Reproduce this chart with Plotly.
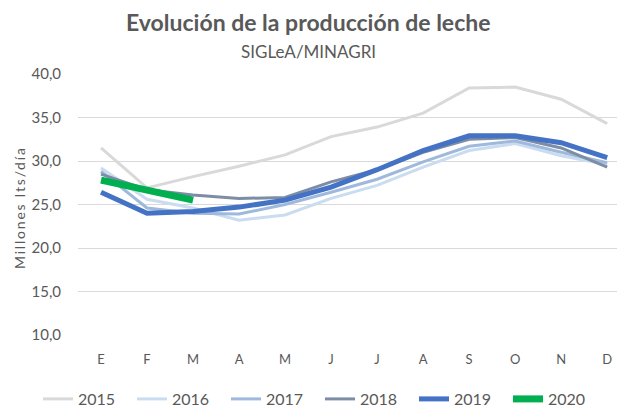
import plotly.graph_objects as go

months = ["E", "F", "M", "A", "M", "J", "J", "A", "S", "O", "N", "D"]
y2015 = [31.5, 26.9, 28.2, 29.4, 30.7, 32.8, 33.9, 35.5, 38.4, 38.5, 37.1, 34.3]
y2016 = [29.2, 25.6, 24.6, 23.2, 23.8, 25.7, 27.2, 29.3, 31.2, 32.0, 30.6, 29.6]
y2017 = [28.8, 24.6, 24.0, 23.9, 25.0, 26.4, 27.9, 29.9, 31.7, 32.3, 31.0, 29.8]
y2018 = [28.5, 26.7, 26.1, 25.7, 25.8, 27.6, 29.0, 31.0, 32.5, 32.7, 31.5, 29.3]
y2019 = [26.4, 24.0, 24.2, 24.7, 25.5, 27.0, 29.0, 31.2, 32.9, 32.9, 32.1, 30.4]
y2020 = [27.8, 26.6, 25.5]

series = [
    ("2015", y2015, "#d9d9d9", 3),
    ("2016", y2016, "#c9dcf0", 3),
    ("2017", y2017, "#9fb9dc", 3),
    ("2018", y2018, "#7c8da5", 3),
    ("2019", y2019, "#4472c4", 5),
    ("2020", y2020, "#00b050", 7),
]

title_text = "Evolución de la producción de leche"
subtitle_text = "SIGLeA/MINAGRI"
yaxis_title = "Millones lts/día"

# The page body adds an 8px offset; size the figure to fit the window.
OFF = 8
W, H = 625 - OFF, 411 - OFF
# target plot box in screen pixels
SL, ST, SR, SB = 78, 74, 621, 335
ML, MT = SL - OFF, ST - OFF
MR, MB = W - (SR - OFF), H - (SB - OFF)
PW, PH = W - ML - MR, H - MT - MB

xs = list(range(len(months)))
fig = go.Figure()
for name, vals, color, w in series:
    fig.add_trace(go.Scatter(
        x=xs[:len(vals)], y=vals, name=name, mode="lines",
        line=dict(color=color, width=w),
    ))

font_family = "Lato, 'Open Sans', sans-serif"
grey = "#595959"

def px_x(sx):
    return (sx - OFF - ML) / PW

def px_y(sy):
    return (H - MB - (sy - OFF)) / PH

fig.update_layout(
    width=W, height=H,
    margin=dict(l=ML, r=MR, t=MT, b=MB, autoexpand=False),
    paper_bgcolor="white", plot_bgcolor="white",
    separators=",.",
    font=dict(family=font_family, color=grey, size=13),
    xaxis=dict(
        tickmode="array", tickvals=xs, ticktext=months,
        range=[-0.5, 11.3], showgrid=False, zeroline=False,
        showline=False, ticks="", ticklabelstandoff=15,
        tickfont=dict(size=13, color=grey), automargin=False,
    ),
    yaxis=dict(
        range=[10, 40], dtick=5, tick0=10, tickformat=".1f",
        showgrid=True, gridcolor="#d9d9d9", gridwidth=1,
        zeroline=False, showline=False, ticks="", ticklabelstandoff=16,
        tickfont=dict(size=15, color=grey), automargin=False,
    ),
    legend=dict(
        orientation="h", x=px_x(38), xanchor="left",
        y=px_y(399), yanchor="middle",
        font=dict(size=16, color=grey),
        entrywidth=49, entrywidthmode="pixels",
        itemwidth=30, tracegroupgap=0, bgcolor="rgba(0,0,0,0)",
    ),
    showlegend=True,
    annotations=[
        dict(text="<b>" + title_text + "</b>", xref="paper", yref="paper",
             x=px_x(308), y=px_y(22), xanchor="center", yanchor="middle",
             showarrow=False, font=dict(size=23, color=grey, family=font_family)),
        dict(text=subtitle_text, xref="paper", yref="paper",
             x=px_x(308), y=px_y(52), xanchor="center", yanchor="middle",
             showarrow=False, font=dict(size=17, color=grey, family=font_family)),
        dict(text="<span style='letter-spacing:1.8px'>" + yaxis_title + "</span>",
             xref="paper", yref="paper",
             x=px_x(19), y=px_y(208), xanchor="center", yanchor="middle",
             textangle=-90, showarrow=False,
             font=dict(size=14, color=grey, family=font_family)),
    ],
)

fig.write_html("out.html")
